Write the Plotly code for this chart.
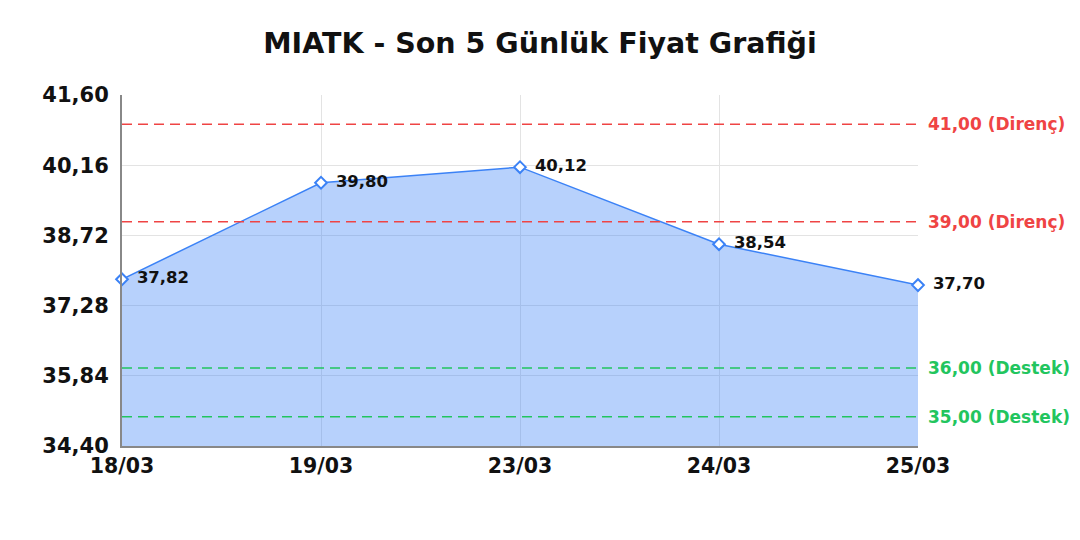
import plotly.graph_objects as go

dates = ["18/03", "19/03", "23/03", "24/03", "25/03"]
prices = [37.82, 39.80, 40.12, 38.54, 37.70]
y_ticks = [34.40, 35.84, 37.28, 38.72, 40.16, 41.60]
resistance = [41.00, 39.00]
support = [36.00, 35.00]

FONT = "DejaVu Sans"
BLUE = "#3b82f6"
RED = "#ef4444"
GREEN = "#22c55e"

def fmt(v):
    return f"{v:.2f}".replace(".", ",")

fig = go.Figure()
fig.add_trace(go.Scatter(
    x=dates, y=prices,
    mode="lines+markers+text",
    fill="tozeroy",
    fillcolor="rgba(59,130,246,0.37)",
    line=dict(color=BLUE, width=1.5),
    marker=dict(symbol="diamond", size=9, color="white", line=dict(color=BLUE, width=2)),
    text=["\u2002" + fmt(p) for p in prices],
    textposition="middle right",
    textfont=dict(family=FONT, size=16.5, color="#111111", weight="bold"),
    cliponaxis=False,
    showlegend=False,
    hoverinfo="skip",
))

shapes = []
annotations = []
for lvl in resistance:
    shapes.append(dict(type="line", xref="paper", x0=0, x1=1, yref="y", y0=lvl, y1=lvl,
                       line=dict(color=RED, width=1.5, dash="10px,6px"), layer="above"))
    annotations.append(dict(xref="paper", x=1, xanchor="left", xshift=8, yref="y", y=lvl,
                            text=f"{fmt(lvl)} (Direnç)", showarrow=False,
                            font=dict(family=FONT, size=17, color=RED, weight="bold")))
for lvl in support:
    shapes.append(dict(type="line", xref="paper", x0=0, x1=1, yref="y", y0=lvl, y1=lvl,
                       line=dict(color=GREEN, width=1.5, dash="10px,6px"), layer="above"))
    annotations.append(dict(xref="paper", x=1, xanchor="left", xshift=8, yref="y", y=lvl,
                            text=f"{fmt(lvl)} (Destek)", showarrow=False,
                            font=dict(family=FONT, size=17, color=GREEN, weight="bold")))

fig.update_layout(
    width=1080, height=540,
    margin=dict(l=114, r=170, t=87, b=102),
    paper_bgcolor="white", plot_bgcolor="white",
    separators=",.",
    title=dict(text="MIATK - Son 5 Günlük Fiyat Grafiği", x=0.4926, xanchor="center",
               y=0.935, yanchor="middle",
               font=dict(family=FONT, size=28.5, color="#111111", weight="bold")),
    shapes=shapes,
    annotations=annotations,
    xaxis=dict(type="category", range=[0, 4], showgrid=True, gridcolor="#e3e3e3",
               showline=True, linecolor="#888888", linewidth=2,
               tickfont=dict(family=FONT, size=20.5, color="#111111", weight="bold"),
               ticks="", fixedrange=True),
    yaxis=dict(range=[34.40, 41.60], tickvals=y_ticks, ticktext=[fmt(t) for t in y_ticks],
               showgrid=True, gridcolor="#e3e3e3", zeroline=False,
               showline=True, linecolor="#888888", linewidth=2,
               tickfont=dict(family=FONT, size=21, color="#111111", weight="bold"),
               ticks="outside", ticklen=7, tickcolor="white", fixedrange=True),
)

fig.write_html("out.html")
